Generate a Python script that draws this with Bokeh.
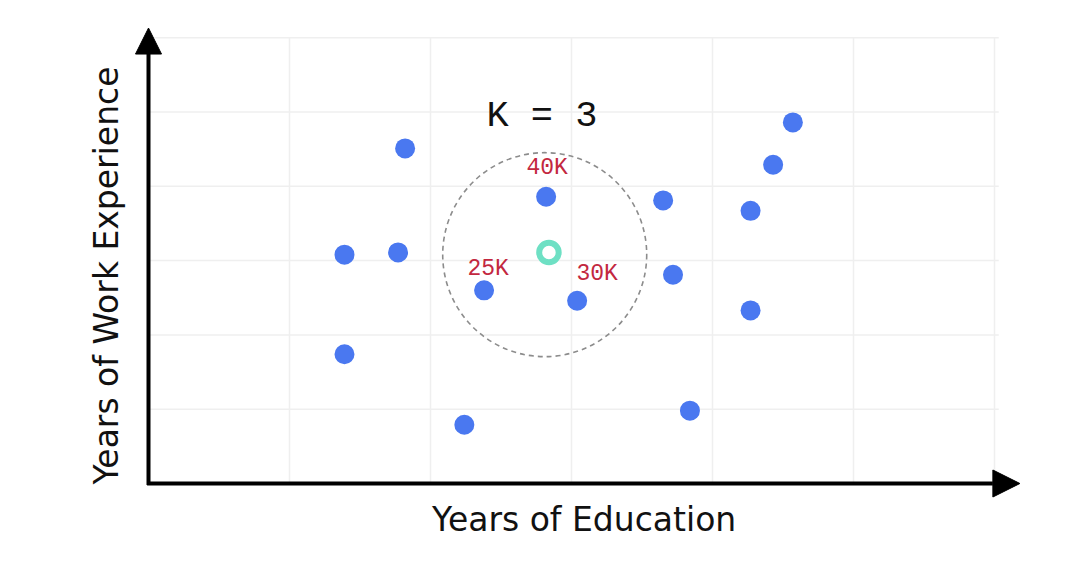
from bokeh.plotting import figure
from bokeh.models import Label, Arrow, NormalHead, ColumnDataSource
from bokeh.embed import file_html
from bokeh.resources import INLINE

# Data (x = years of education, y = years of work experience, arbitrary units)
pts_x = [1.82, 1.39, 1.77, 1.39, 2.24, 2.38, 2.82, 3.04, 3.65, 3.72, 3.84, 4.27, 4.27, 4.43, 4.57]
pts_y = [4.51, 3.08, 3.11, 1.74, 0.79, 2.60, 3.86, 2.46, 3.81, 2.81, 0.98, 3.67, 2.33, 4.29, 4.86]

query_x = [2.84]
query_y = [3.11]

circle_x = [2.81]
circle_y = [3.08]

nbr_x = [2.82, 2.38, 3.04]
nbr_y = [3.86, 2.60, 2.46]
nbr_labels = ["40K", "25K", "30K"]

grid_ticks = [1, 2, 3, 4, 5, 6]
x_max = 6.03
y_max = 6.0
arrow_x_end = 6.18
arrow_y_end = 6.13

x_label = "Years of Education"
y_label = "Years of Work Experience"
k_text = "K = 3"

W, H = 1086, 574
p = figure(width=W, height=H, x_range=(-148 / 141, (W - 148) / 141),
           y_range=((483 - H) / 74.3, 483 / 74.3),
           x_axis_type=None, y_axis_type=None, toolbar_location=None,
           output_backend="svg", min_border=0)
p.outline_line_color = None
p.grid.visible = False
p.background_fill_color = "white"
p.border_fill_color = "white"

grid_color = "#efefef"
# vertical grid lines
p.segment(x0=grid_ticks, y0=[0] * len(grid_ticks), x1=grid_ticks, y1=[y_max] * len(grid_ticks),
          line_color=grid_color, line_width=1.5)
# horizontal grid lines
p.segment(x0=[0] * len(grid_ticks), y0=grid_ticks, x1=[x_max] * len(grid_ticks), y1=grid_ticks,
          line_color=grid_color, line_width=1.5)

# axes arrows
p.add_layout(Arrow(end=NormalHead(size=27, fill_color="black", line_color="black", line_width=1),
                   x_start=-0.01, y_start=0, x_end=arrow_x_end, y_end=0,
                   line_width=4, line_color="black"))
p.add_layout(Arrow(end=NormalHead(size=26, fill_color="black", line_color="black", line_width=1),
                   x_start=0, y_start=-0.02, x_end=0, y_end=arrow_y_end,
                   line_width=4, line_color="black"))

# dashed radius circle
p.scatter(x=circle_x, y=circle_y, size=204, marker="circle", fill_color=None,
          line_color="#8c8c8c", line_width=1.6, line_dash="5 4")

# points
p.scatter(x=pts_x, y=pts_y, size=20, marker="circle", fill_color="#4a78f0", line_color=None)

# query point
p.scatter(x=query_x, y=query_y, size=19.5, marker="circle", fill_color="white",
          line_color="#6ee0c4", line_width=6)

# neighbour labels
src = ColumnDataSource(dict(x=nbr_x, y=nbr_y, t=nbr_labels,
                            dx=[1, 4, 20], dy=[-29, -21, -27]))
p.text(x="x", y="y", text="t", source=src, x_offset="dx", y_offset="dy",
       text_font={"value": "Liberation Mono"}, text_font_size="23px",
       text_color="#c3283f", text_align="center", text_baseline="middle")

p.add_layout(Label(x=2.79, y=4.95, text=k_text, text_font="Liberation Mono",
                   text_font_size="37px", text_color="#111111", text_align="center",
                   text_baseline="middle"))

p.add_layout(Label(x=3.09, y=-0.49, text=x_label, text_font="DejaVu Sans",
                   text_font_size="33px", text_color="#111111", text_align="center",
                   text_baseline="middle"))
p.add_layout(Label(x=-0.3, y=2.80, text=y_label, text_font="DejaVu Sans",
                   text_font_size="33px", text_color="#111111", text_align="center",
                   text_baseline="middle", angle=90, angle_units="deg"))

open("out.html", "w").write(file_html(p, INLINE))
